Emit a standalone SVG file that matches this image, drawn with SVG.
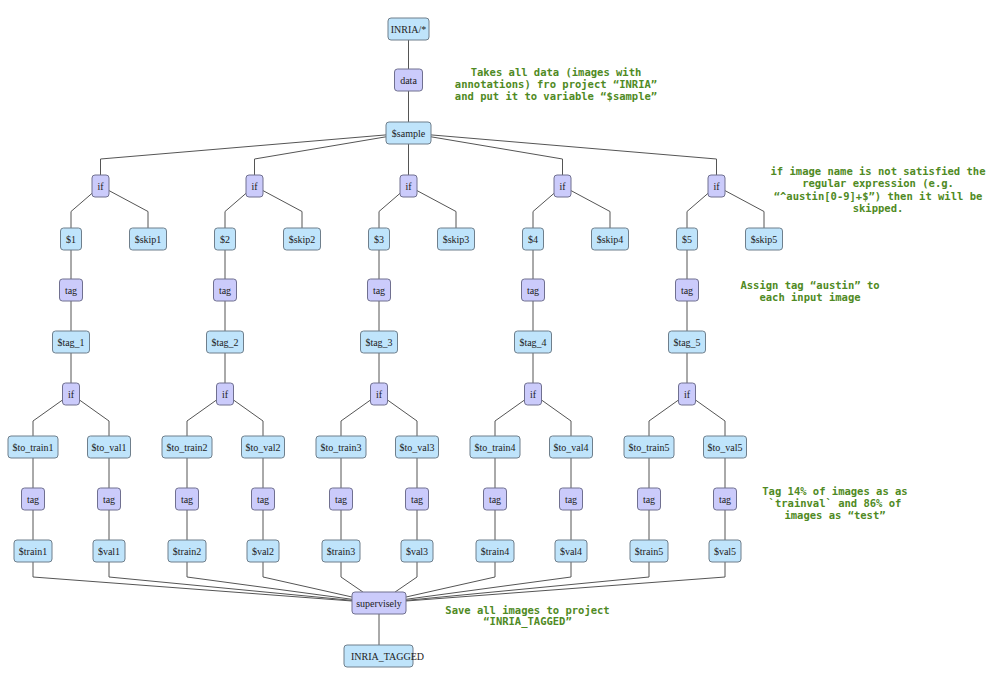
<svg xmlns="http://www.w3.org/2000/svg" width="1000" height="685" viewBox="0 0 1000 685">
<style>
.d rect{fill:#bfe4fb;stroke:#6f7f8c;stroke-width:1}
.o rect{fill:#cbcbfb;stroke:#707090;stroke-width:1}
.n text{font-family:"Liberation Serif","Times New Roman",serif;font-size:10px;fill:#222;text-anchor:middle}
.e path{fill:none;stroke:#555;stroke-width:1}
.a{font-family:"DejaVu Sans Mono","Liberation Mono",monospace;font-size:10.5px;font-weight:bold;fill:#4f8a24;text-anchor:middle}
</style>
<rect width="1000" height="685" fill="#fff"/>
<g id="edges" class="e">
<path d="M408.5 40V69M408.5 91V122M408.5 144V175"/>
<path d="M386 134.9L100.5 159V175M386 136.8L254.5 159V175M431 136.8L562.5 159V175M431 134.9L716.5 159V175"/>
<!-- column 1 -->
<path d="M92 193.35L71 211.5V228M109 190.6L148 211.5V228M71 250V279M71 301V331M71 353V383M62.5 400L33 421V436M79.5 400L109 421V436M33 458V488M33 510V540M109 458V488M109 510V540"/>
<!-- column 2 -->
<path d="M246 193.35L225 211.5V228M263 190.6L302 211.5V228M225 250V279M225 301V331M225 353V383M216.5 400L187 421V436M233.5 400L263 421V436M187 458V488M187 510V540M263 458V488M263 510V540"/>
<!-- column 3 -->
<path d="M400 193.35L379 211.5V228M417 190.6L456 211.5V228M379 250V279M379 301V331M379 353V383M370.5 400L341 421V436M387.5 400L417 421V436M341 458V488M341 510V540M417 458V488M417 510V540"/>
<!-- column 4 -->
<path d="M554 193.35L533 211.5V228M571 190.6L610 211.5V228M533 250V279M533 301V331M533 353V383M524.5 400L495 421V436M541.5 400L571 421V436M495 458V488M495 510V540M571 458V488M571 510V540"/>
<!-- column 5 -->
<path d="M708 193.35L687 211.5V228M725 190.6L764 211.5V228M687 250V279M687 301V331M687 353V383M678.5 400L649 421V436M695.5 400L725 421V436M649 458V488M649 510V540M725 458V488M725 510V540"/>
<!-- to supervisely -->
<path d="M33 562V577L352 601M109 562V577L352 600.4M187 562V577L352 599.3M263 562V577L352 597M341 562V577L362.9 592M417 562V577L395.1 592M495 562V577L406 597M571 562V577L406 599.3M649 562V577L406 600.4M725 562V577L406 601"/>
<path d="M379 614V645"/>
</g>
<g id="n_inria" class="n d"><rect x="388" y="18" width="41" height="22" rx="3"/><text x="408.5" y="32.5">INRIA/*</text></g>
<g id="n_data" class="n o"><rect x="394.5" y="69" width="28" height="22" rx="3"/><text x="408.5" y="83.5">data</text></g>
<g id="n_sample" class="n d"><rect x="386" y="122" width="45" height="22" rx="3"/><text x="408.5" y="136.5">$sample</text></g>

<g id="n_if1" class="n o"><rect x="92" y="175" width="17" height="22" rx="3"/><text x="100.5" y="189.5">if</text></g>
<g id="n_s1" class="n d"><rect x="60.5" y="228" width="21" height="22" rx="3"/><text x="71" y="242.5">$1</text></g>
<g id="n_skip1" class="n d"><rect x="129.5" y="228" width="37" height="22" rx="3"/><text x="148" y="242.5">$skip1</text></g>
<g id="n_tag1" class="n o"><rect x="59.5" y="279" width="23" height="22" rx="3"/><text x="71" y="293.5">tag</text></g>
<g id="n_tagv1" class="n d"><rect x="52.5" y="331" width="37" height="22" rx="3"/><text x="71" y="345.5">$tag_1</text></g>
<g id="n_ifb1" class="n o"><rect x="62.5" y="383" width="17" height="22" rx="3"/><text x="71" y="397.5">if</text></g>
<g id="n_tt1" class="n d"><rect x="8" y="436" width="50" height="22" rx="3"/><text x="33" y="450.5">$to_train1</text></g>
<g id="n_tv1" class="n d"><rect x="87.5" y="436" width="43" height="22" rx="3"/><text x="109" y="450.5">$to_val1</text></g>
<g id="n_ttag1" class="n o"><rect x="21.5" y="488" width="23" height="22" rx="3"/><text x="33" y="502.5">tag</text></g>
<g id="n_vtag1" class="n o"><rect x="97.5" y="488" width="23" height="22" rx="3"/><text x="109" y="502.5">tag</text></g>
<g id="n_train1" class="n d"><rect x="14" y="540" width="38" height="22" rx="3"/><text x="33" y="554.5">$train1</text></g>
<g id="n_val1" class="n d"><rect x="93" y="540" width="32" height="22" rx="3"/><text x="109" y="554.5">$val1</text></g>

<g id="n_if2" class="n o"><rect x="246" y="175" width="17" height="22" rx="3"/><text x="254.5" y="189.5">if</text></g>
<g id="n_s2" class="n d"><rect x="214.5" y="228" width="21" height="22" rx="3"/><text x="225" y="242.5">$2</text></g>
<g id="n_skip2" class="n d"><rect x="283.5" y="228" width="37" height="22" rx="3"/><text x="302" y="242.5">$skip2</text></g>
<g id="n_tag2" class="n o"><rect x="213.5" y="279" width="23" height="22" rx="3"/><text x="225" y="293.5">tag</text></g>
<g id="n_tagv2" class="n d"><rect x="206.5" y="331" width="37" height="22" rx="3"/><text x="225" y="345.5">$tag_2</text></g>
<g id="n_ifb2" class="n o"><rect x="216.5" y="383" width="17" height="22" rx="3"/><text x="225" y="397.5">if</text></g>
<g id="n_tt2" class="n d"><rect x="162" y="436" width="50" height="22" rx="3"/><text x="187" y="450.5">$to_train2</text></g>
<g id="n_tv2" class="n d"><rect x="241.5" y="436" width="43" height="22" rx="3"/><text x="263" y="450.5">$to_val2</text></g>
<g id="n_ttag2" class="n o"><rect x="175.5" y="488" width="23" height="22" rx="3"/><text x="187" y="502.5">tag</text></g>
<g id="n_vtag2" class="n o"><rect x="251.5" y="488" width="23" height="22" rx="3"/><text x="263" y="502.5">tag</text></g>
<g id="n_train2" class="n d"><rect x="168" y="540" width="38" height="22" rx="3"/><text x="187" y="554.5">$train2</text></g>
<g id="n_val2" class="n d"><rect x="247" y="540" width="32" height="22" rx="3"/><text x="263" y="554.5">$val2</text></g>

<g id="n_if3" class="n o"><rect x="400" y="175" width="17" height="22" rx="3"/><text x="408.5" y="189.5">if</text></g>
<g id="n_s3" class="n d"><rect x="368.5" y="228" width="21" height="22" rx="3"/><text x="379" y="242.5">$3</text></g>
<g id="n_skip3" class="n d"><rect x="437.5" y="228" width="37" height="22" rx="3"/><text x="456" y="242.5">$skip3</text></g>
<g id="n_tag3" class="n o"><rect x="367.5" y="279" width="23" height="22" rx="3"/><text x="379" y="293.5">tag</text></g>
<g id="n_tagv3" class="n d"><rect x="360.5" y="331" width="37" height="22" rx="3"/><text x="379" y="345.5">$tag_3</text></g>
<g id="n_ifb3" class="n o"><rect x="370.5" y="383" width="17" height="22" rx="3"/><text x="379" y="397.5">if</text></g>
<g id="n_tt3" class="n d"><rect x="316" y="436" width="50" height="22" rx="3"/><text x="341" y="450.5">$to_train3</text></g>
<g id="n_tv3" class="n d"><rect x="395.5" y="436" width="43" height="22" rx="3"/><text x="417" y="450.5">$to_val3</text></g>
<g id="n_ttag3" class="n o"><rect x="329.5" y="488" width="23" height="22" rx="3"/><text x="341" y="502.5">tag</text></g>
<g id="n_vtag3" class="n o"><rect x="405.5" y="488" width="23" height="22" rx="3"/><text x="417" y="502.5">tag</text></g>
<g id="n_train3" class="n d"><rect x="322" y="540" width="38" height="22" rx="3"/><text x="341" y="554.5">$train3</text></g>
<g id="n_val3" class="n d"><rect x="401" y="540" width="32" height="22" rx="3"/><text x="417" y="554.5">$val3</text></g>

<g id="n_if4" class="n o"><rect x="554" y="175" width="17" height="22" rx="3"/><text x="562.5" y="189.5">if</text></g>
<g id="n_s4" class="n d"><rect x="522.5" y="228" width="21" height="22" rx="3"/><text x="533" y="242.5">$4</text></g>
<g id="n_skip4" class="n d"><rect x="591.5" y="228" width="37" height="22" rx="3"/><text x="610" y="242.5">$skip4</text></g>
<g id="n_tag4" class="n o"><rect x="521.5" y="279" width="23" height="22" rx="3"/><text x="533" y="293.5">tag</text></g>
<g id="n_tagv4" class="n d"><rect x="514.5" y="331" width="37" height="22" rx="3"/><text x="533" y="345.5">$tag_4</text></g>
<g id="n_ifb4" class="n o"><rect x="524.5" y="383" width="17" height="22" rx="3"/><text x="533" y="397.5">if</text></g>
<g id="n_tt4" class="n d"><rect x="470" y="436" width="50" height="22" rx="3"/><text x="495" y="450.5">$to_train4</text></g>
<g id="n_tv4" class="n d"><rect x="549.5" y="436" width="43" height="22" rx="3"/><text x="571" y="450.5">$to_val4</text></g>
<g id="n_ttag4" class="n o"><rect x="483.5" y="488" width="23" height="22" rx="3"/><text x="495" y="502.5">tag</text></g>
<g id="n_vtag4" class="n o"><rect x="559.5" y="488" width="23" height="22" rx="3"/><text x="571" y="502.5">tag</text></g>
<g id="n_train4" class="n d"><rect x="476" y="540" width="38" height="22" rx="3"/><text x="495" y="554.5">$train4</text></g>
<g id="n_val4" class="n d"><rect x="555" y="540" width="32" height="22" rx="3"/><text x="571" y="554.5">$val4</text></g>

<g id="n_if5" class="n o"><rect x="708" y="175" width="17" height="22" rx="3"/><text x="716.5" y="189.5">if</text></g>
<g id="n_s5" class="n d"><rect x="676.5" y="228" width="21" height="22" rx="3"/><text x="687" y="242.5">$5</text></g>
<g id="n_skip5" class="n d"><rect x="745.5" y="228" width="37" height="22" rx="3"/><text x="764" y="242.5">$skip5</text></g>
<g id="n_tag5" class="n o"><rect x="675.5" y="279" width="23" height="22" rx="3"/><text x="687" y="293.5">tag</text></g>
<g id="n_tagv5" class="n d"><rect x="668.5" y="331" width="37" height="22" rx="3"/><text x="687" y="345.5">$tag_5</text></g>
<g id="n_ifb5" class="n o"><rect x="678.5" y="383" width="17" height="22" rx="3"/><text x="687" y="397.5">if</text></g>
<g id="n_tt5" class="n d"><rect x="624" y="436" width="50" height="22" rx="3"/><text x="649" y="450.5">$to_train5</text></g>
<g id="n_tv5" class="n d"><rect x="703.5" y="436" width="43" height="22" rx="3"/><text x="725" y="450.5">$to_val5</text></g>
<g id="n_ttag5" class="n o"><rect x="637.5" y="488" width="23" height="22" rx="3"/><text x="649" y="502.5">tag</text></g>
<g id="n_vtag5" class="n o"><rect x="713.5" y="488" width="23" height="22" rx="3"/><text x="725" y="502.5">tag</text></g>
<g id="n_train5" class="n d"><rect x="630" y="540" width="38" height="22" rx="3"/><text x="649" y="554.5">$train5</text></g>
<g id="n_val5" class="n d"><rect x="709" y="540" width="32" height="22" rx="3"/><text x="725" y="554.5">$val5</text></g>

<g id="n_supervisely" class="n o"><rect x="352" y="592" width="54" height="22" rx="3"/><text x="379" y="606.5">supervisely</text></g>
<g id="n_out" class="n d"><rect x="344" y="645" width="69" height="22" rx="3"/><text x="351" y="659.5" style="text-anchor:start">INRIA_TAGGED</text></g>

<g id="notes">
<text class="a" x="556" y="75.5">Takes all data (images with</text>
<text class="a" x="556" y="87.5">annotations) fro project “INRIA”</text>
<text class="a" x="556" y="99.5">and put it to variable “$sample”</text>
<text class="a" x="878" y="174.5">if image name is not satisfied the</text>
<text class="a" x="878" y="187">regular expression (e.g.</text>
<text class="a" x="878" y="199.5">“^austin[0-9]+$”) then it will be</text>
<text class="a" x="878" y="212">skipped.</text>
<text class="a" x="810" y="288.5">Assign tag “austin” to</text>
<text class="a" x="810" y="300.5">each input image</text>
<text class="a" x="835" y="494.5">Tag 14% of images as as</text>
<text class="a" x="835" y="506.5">`trainval` and 86% of</text>
<text class="a" x="835" y="518.5">images as “test”</text>
<text class="a" x="527.5" y="614">Save all images to project</text>
<text class="a" x="527.5" y="625">“INRIA_TAGGED”</text>
</g>
</svg>
